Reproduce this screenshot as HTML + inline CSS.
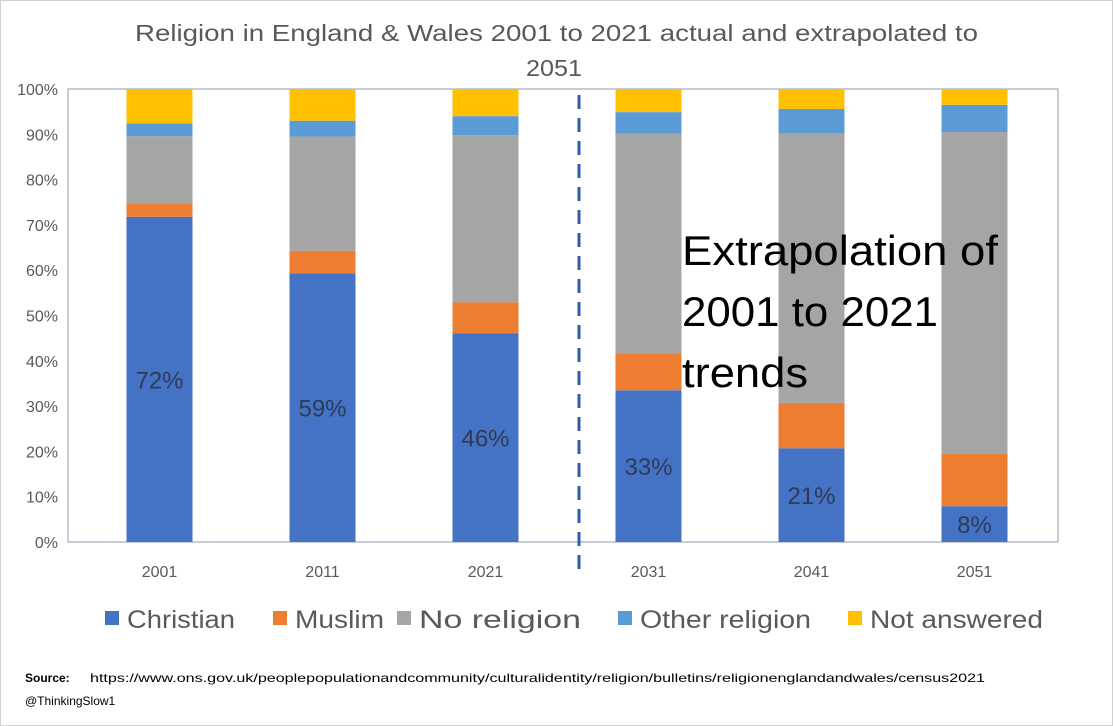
<!DOCTYPE html>
<html><head><meta charset="utf-8">
<style>
body{margin:0;background:#fff;font-family:"Liberation Sans",sans-serif;}
#wrap{position:relative;width:1113px;height:726px;overflow:hidden;}
</style></head>
<body>
<div id="wrap">
<svg id="chart" width="1113" height="726" xmlns="http://www.w3.org/2000/svg"></svg>
</div>
<script>
const categories=["2001","2011","2021","2031","2041","2051"];
const christian=[71.8,59.3,46.1,33.5,20.7,7.9];
const muslim=[3.0,5.0,6.8,8.2,10.0,11.6];
const noReligion=[14.8,25.2,36.9,48.4,59.5,71.0];
const otherReligion=[2.8,3.5,4.2,4.8,5.4,6.0];
const notAnswered=[7.6,7.0,6.0,5.1,4.4,3.5];
const christianLabels=["72%","59%","46%","33%","21%","8%"];
const yTicks=[0,10,20,30,40,50,60,70,80,90,100];
const seriesNames=["Christian","Muslim","No religion","Other religion","Not answered"];

const NS="http://www.w3.org/2000/svg";
const svg=document.getElementById('chart');
const L=78,R=1056,T=89,B=542;
const band=(R-L)/categories.length, bw=66;
const x=i=>L+band*(i+0.5);
const y=v=>B-(B-T)*v/100;
function mk(tag,attrs,txt){const e=document.createElementNS(NS,tag);for(const k in attrs)e.setAttribute(k,attrs[k]);if(txt!==undefined)e.textContent=txt;svg.appendChild(e);return e;}

let e=mk('rect',{x:0.5,y:0.5,width:1112,height:725,fill:'#fff',stroke:'#d0d0d0'});



e=mk('text',{x:135,y:41,'font-size':23,fill:'#595959',textLength:843,lengthAdjust:'spacingAndGlyphs'},'Religion in England & Wales 2001 to 2021 actual and extrapolated to');


e=mk('text',{x:526,y:76,'font-size':23,fill:'#595959',textLength:56,lengthAdjust:'spacingAndGlyphs'},'2051');



e=mk('rect',{x:68,y:T,width:990,height:B-T,fill:'none',stroke:'#8c9bb0','stroke-width':1});



yTicks.forEach(t=>{
  const tx=mk('text',{x:58,y:y(t)+6,'text-anchor':'end','font-size':16,fill:'#595959'},t+'%');
  
  
});

const series=[christian,muslim,noReligion,otherReligion,notAnswered];
const colors=["#4472c4","#ed7d31","#a5a5a5","#5b9bd5","#ffc000"];
const keys=["christian","muslim","no-religion","other-religion","not-answered"];
categories.forEach((c,i)=>{
  let base=0;
  series.forEach((s,k)=>{
    const r=mk('rect',{x:x(i)-bw/2,y:y(base+s[i]),width:bw,height:y(base)-y(base+s[i]),fill:colors[k]});
    
    
    base+=s[i];
  });
  const lb=mk('text',{x:x(i),y:y(christian[i]/2)+9,'text-anchor':'middle','font-size':24,fill:'#2f3b55'},christianLabels[i]);
  
  
  const xt=mk('text',{x:x(i),y:B+35,'text-anchor':'middle','font-size':16,fill:'#595959'},c);
  
  
});

e=mk('line',{x1:579,y1:95,x2:579,y2:572,stroke:'#2e5ea8','stroke-width':3,'stroke-dasharray':'14,9'});



const annLines=["Extrapolation of","2001 to 2021","trends"];
const annW=[316,256,126];
annLines.forEach((t,j)=>{
  const a=mk('text',{x:682,y:265+j*61,'font-size':42,fill:'#000',textLength:annW[j],lengthAdjust:'spacingAndGlyphs'},t);
  
  
});

const legX=[105,273,397,618,848];
const legW=[108,89,162,171,173];
seriesNames.forEach((n,k)=>{
  const g=mk('rect',{x:legX[k],y:611,width:14,height:14,fill:colors[k]});
  
  
  const t=mk('text',{x:legX[k]+22,y:628,'font-size':25,fill:'#595959',textLength:legW[k],lengthAdjust:'spacingAndGlyphs'},n);
  
  
});

e=mk('text',{x:25,y:682,'font-size':12,fill:'#000'},'Source:');
e.setAttribute('font-weight','bold');


e=mk('text',{x:90,y:682,'font-size':12,fill:'#000',textLength:895,lengthAdjust:'spacingAndGlyphs'},'https://www.ons.gov.uk/peoplepopulationandcommunity/culturalidentity/religion/bulletins/religionenglandandwales/census2021');


e=mk('text',{x:25,y:705,'font-size':12,fill:'#000'},'@ThinkingSlow1');


</script>
</body></html>
